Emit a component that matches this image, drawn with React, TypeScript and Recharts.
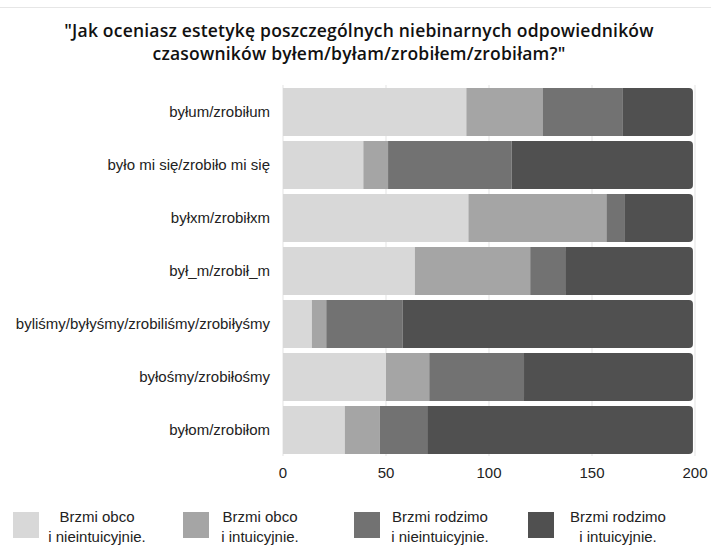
import { BarChart, Bar, XAxis, YAxis, CartesianGrid } from 'recharts'

const categories = [
  'byłum/zrobiłum',
  'było mi się/zrobiło mi się',
  'byłxm/zrobiłxm',
  'był_m/zrobił_m',
  'byliśmy/byłyśmy/zrobiliśmy/zrobiłyśmy',
  'byłośmy/zrobiłośmy',
  'byłom/zrobiłom',
]

const obcoNieintuicyjnie = [89, 39, 90, 64, 14, 50, 30]
const obcoIntuicyjnie = [37, 12, 67, 56, 7, 21, 17]
const rodzimoNieintuicyjnie = [39, 60, 9, 17, 37, 46, 23]
const rodzimoIntuicyjnie = [34, 88, 33, 62, 141, 82, 129]

const xTicks = [0, 50, 100, 150, 200]

const series = [
  { key: 'a', line1: 'Brzmi obco', line2: 'i nieintuicyjnie.', color: '#d8d8d8', values: obcoNieintuicyjnie },
  { key: 'b', line1: 'Brzmi obco', line2: 'i intuicyjnie.', color: '#a5a5a5', values: obcoIntuicyjnie },
  { key: 'c', line1: 'Brzmi rodzimo', line2: 'i nieintuicyjnie.', color: '#727272', values: rodzimoNieintuicyjnie },
  { key: 'd', line1: 'Brzmi rodzimo', line2: 'i intuicyjnie.', color: '#505050', values: rodzimoIntuicyjnie },
]

const data = categories.map((name, i) => {
  const row: Record<string, string | number> = { name }
  series.forEach((s) => {
    row[s.key] = s.values[i]
  })
  return row
})

// legend placement (square left edge, text block centre)
const legendPos = [
  { sq: 13, cx: 97 },
  { sq: 183, cx: 260 },
  { sq: 354, cx: 440 },
  { sq: 528, cx: 618 },
]

const tickStyle = { fontSize: 15, fill: '#222', fontFamily: '"Liberation Sans", Arial, sans-serif' }

export default function App() {
  return (
    <div
      style={{
        position: 'absolute',
        left: 0,
        top: 0,
        width: 711,
        height: 553,
        background: '#fff',
        overflow: 'hidden',
      }}
    >
      <div style={{ position: 'absolute', left: 0, top: 7, width: 711, height: 1, background: '#e6e6e6' }} />
      <div
        style={{
          position: 'absolute',
          left: 0,
          top: 19,
          width: 718,
          textAlign: 'center',
          fontFamily: '"Open Sans", sans-serif',
          fontWeight: 600,
          fontSize: 17.5,
          letterSpacing: 0.2,
          lineHeight: '23px',
          color: '#111',
        }}
      >
        "Jak oceniasz estetykę poszczególnych niebinarnych odpowiedników
        <br />
        czasowników byłem/byłam/zrobiłem/zrobiłam?"
      </div>

      <BarChart
        width={711}
        height={553}
        data={data}
        layout="vertical"
        margin={{ top: 85, right: 16, left: 0, bottom: 67 }}
      >
        <CartesianGrid horizontal={false} stroke="#e3e3e3" />
        <XAxis
          type="number"
          domain={[0, 200]}
          ticks={xTicks}
          tick={tickStyle}
          tickLine={false}
          axisLine={false}
          tickMargin={5}
          height={30}
        />
        <YAxis
          type="category"
          dataKey="name"
          width={283}
          tick={tickStyle}
          tickLine={false}
          axisLine={false}
          tickMargin={7}
          interval={0}
        />
        {series.map((s, i) => (
          <Bar
            key={s.key}
            dataKey={s.key}
            stackId="s"
            fill={s.color}
            barSize={48}
            radius={i === series.length - 1 ? [0, 4, 4, 0] : 0}
            isAnimationActive={false}
          />
        ))}
      </BarChart>

      {series.map((s, i) => (
        <div key={s.key}>
          <div
            style={{
              position: 'absolute',
              left: legendPos[i].sq,
              top: 512,
              width: 26,
              height: 26,
              background: s.color,
            }}
          />
          <div
            style={{
              position: 'absolute',
              left: legendPos[i].cx - 60,
              top: 507,
              width: 120,
              textAlign: 'center',
              fontFamily: '"Liberation Sans", Arial, sans-serif',
              fontSize: 15,
              lineHeight: '20px',
              color: '#222',
            }}
          >
            {s.line1}
            <br />
            {s.line2}
          </div>
        </div>
      ))}
    </div>
  )
}
